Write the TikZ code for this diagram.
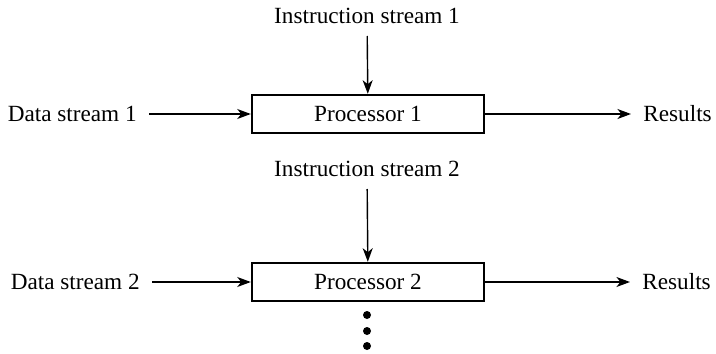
\documentclass[tikz,border=0pt]{standalone}
\usepackage{fontspec}
\setmainfont{Liberation Serif}
\usepackage{tikz}
\usetikzlibrary{
    arrows.meta,
    positioning
}

\begin{document}
\begin{tikzpicture}[x=0.5pt, y=-0.5pt,
        font=\fontsize{11.6}{14}\selectfont,
        every node/.style={inner sep=6pt},
        proc/.style={draw, line width=1.2pt, minimum width=116pt, minimum height=19pt, inner sep=0pt},
        flow/.style={line width=0.7pt, -{Stealth[length=6.8pt, width=5pt, inset=2pt]}}]
                        \useasboundingbox (0, 0) rectangle (716, 353);

                        \node[proc] (p1) at (368, 114) {Processor 1};
                        \node[proc] (p2) at (368, 282) {Processor 2};
                        \node[anchor=south] (i1) at (367, 36) {Instruction stream 1};
                        \node[anchor=south] (i2) at (367, 189) {Instruction stream 2};
                        \node[anchor=east] (d1) at (149, 114) {Data stream 1};
                        \node[anchor=east] (d2) at (152, 282) {Data stream 2};
                        \node[anchor=west] (r1) at (631, 114) {Results};
                        \node[anchor=west] (r2) at (630, 282) {Results};

                        \draw
                        (i1) edge [flow] (p1)
                        (d1) edge [flow] (p1)
                        (p1) edge [flow] (r1)
                        (i2) edge [flow] (p2)
                        (d2) edge [flow] (p2)
                        (p2) edge [flow] (r2);

                        % more processors below
                        \foreach \y in {315, 331, 346}
                            \fill (367, \y) circle (2pt);
                    \end{tikzpicture}
\end{document}
